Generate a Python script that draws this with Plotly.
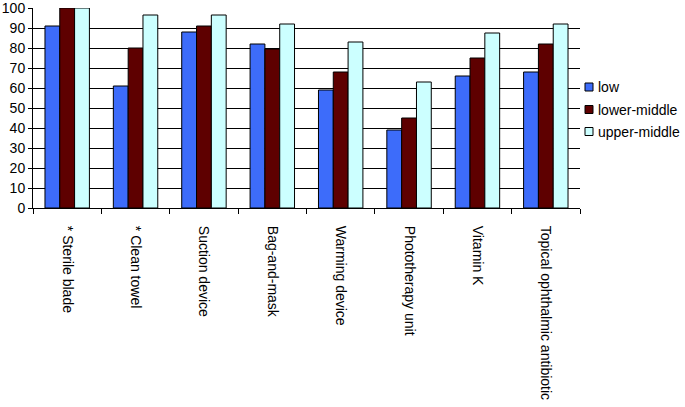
import plotly.graph_objects as go

categories = ["* Sterile blade", "* Clean towel", "Suction device", "Bag-and-mask",
              "Warming device", "Phototherapy unit", "Vitamin K", "Topical ophthalmic antibiotic"]
low = [91, 61, 88, 82, 59, 39, 66, 68]
lower_middle = [100, 80, 91, 79.5, 68, 45, 75, 82]
upper_middle = [100, 96.5, 96.5, 92, 83, 63, 87.5, 92]
y_ticks = [0, 10, 20, 30, 40, 50, 60, 70, 80, 90, 100]

series = [("low", low, "#3D6CFA"), ("lower-middle", lower_middle, "#5E0000"),
          ("upper-middle", upper_middle, "#CCFFFF")]

W, H = 685, 407
L, R, T, B = 33, 105, 8, 199
pw, ph = W - L - R, H - T - B

fig = go.Figure()
for name, vals, col in series:
    fig.add_trace(go.Bar(x=categories, y=vals, name=name, showlegend=False,
                         marker=dict(color=col, line=dict(color="black", width=1))))

# manual legend (outside plot, right side)
leg_x0 = 585
leg_y = [87, 109.5, 131.5]
for (name, _, col), yc in zip(series, leg_y):
    x0 = (leg_x0 - L) / pw
    x1 = (leg_x0 + 8 - L) / pw
    y0 = (H - B - (yc + 4)) / ph
    y1 = (H - B - (yc - 4)) / ph
    fig.add_shape(type="rect", xref="paper", yref="paper", x0=x0, x1=x1, y0=y0, y1=y1,
                  fillcolor=col, line=dict(color="black", width=1))
    fig.add_annotation(xref="paper", yref="paper", x=(leg_x0 + 12 - L) / pw,
                       y=(H - B - yc) / ph, text=name, showarrow=False,
                       xanchor="left", yanchor="middle", xshift=-1,
                       font=dict(size=14, color="black"))

fig.update_layout(
    width=W, height=H,
    margin=dict(l=L, r=R, t=T, b=B, autoexpand=False),
    paper_bgcolor="white", plot_bgcolor="white",
    barmode="group", bargap=0.35, bargroupgap=0,
    font=dict(family="Liberation Sans, Arial, sans-serif", size=14, color="black"),
    showlegend=False,
)
fig.update_xaxes(type="category", tickangle=90, tickson="boundaries", ticks="outside",
                 ticklen=5, tickcolor="black", showline=True, linecolor="black",
                 linewidth=1, showgrid=False, ticklabelstandoff=14, automargin=False,
                 tickfont=dict(size=14))
fig.update_yaxes(range=[0, 100], tickvals=y_ticks, ticks="outside", ticklen=4,
                 tickcolor="black", showline=True, linecolor="black", linewidth=1,
                 showgrid=True, gridcolor="black", gridwidth=1, zeroline=False,
                 automargin=False, ticklabelstandoff=0, tickfont=dict(size=14),
                 ticklabeloverflow="allow")

fig.write_html("out.html", config={"displayModeBar": False},
               post_script="document.body.style.margin='0';document.body.style.overflow='hidden';")
